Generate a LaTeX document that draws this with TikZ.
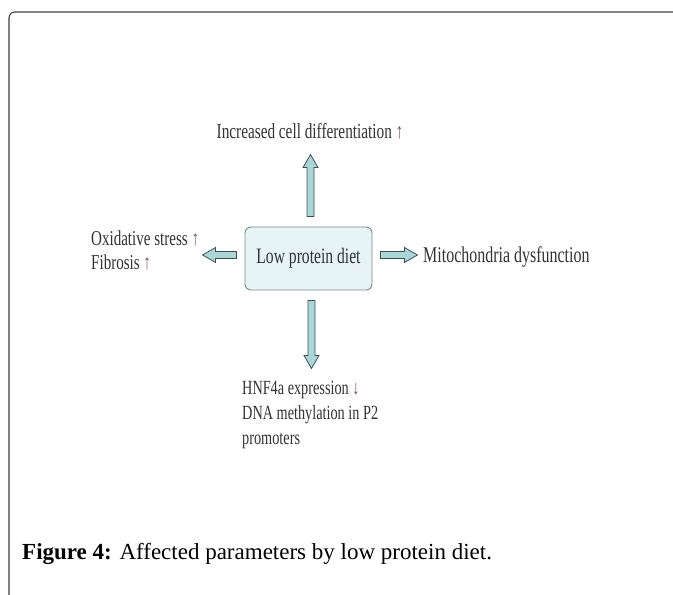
\documentclass[tikz,border=0pt]{standalone}
\usepackage{fontspec}
\setmainfont{Liberation Serif}
\newfontfamily\condfont[FakeStretch=0.71]{Liberation Serif}
\usetikzlibrary{calc}
\definecolor{txtgray}{HTML}{333333}
\definecolor{boxfill}{HTML}{E6F4F6}
\definecolor{boxline}{HTML}{7A8A8C}
\definecolor{arrfill}{HTML}{A9D6D9}
\definecolor{arrline}{HTML}{3F4F50}
\definecolor{updown}{HTML}{7A5560}
\tikzset{
  lbl/.style={inner sep=0pt, text=txtgray},
  centerbox/.style={draw=boxline, fill=boxfill, rounded corners=6pt, line width=0.9pt,
    minimum width=127pt, minimum height=63pt, text=txtgray, font=\condfont\fontsize{22}{24}\selectfont},
  blockarr/.style={draw=arrline, fill=arrfill, line width=0.8pt, line join=miter},
  frame/.style={draw=black!75, line width=1.1pt}
}
\newcommand{\updn}[1]{\textcolor{updown}{#1}}
\newcommand{\blockarrow}[3]{% #1 start, #2 angle, #3 length
  \begin{scope}[shift={#1}, rotate=#2]
    \draw[blockarr] (0,-3.5) -- ({#3-13},-3.5) -- ({#3-13},-7.5) -- (#3,0)
      -- ({#3-13},7.5) -- ({#3-13},3.5) -- (0,3.5) -- cycle;
  \end{scope}}
\begin{document}
\begin{tikzpicture}[x=1pt,y=1pt]
\useasboundingbox (0,0) rectangle (673,595);
\fill[white] (0,0) rectangle (673,595);
% outer frame (open to the right and bottom)
\draw[frame, rounded corners=6pt] (9,-5) |- (690,583);
% centre box
\node[centerbox] (diet) at (308.5,336.5) {Low protein diet};
% labels
\node[lbl, font=\condfont\fontsize{21.5}{26}\selectfont] (up) at (310,464)
  {Increased cell differentiation \updn{↑}};
\node[lbl, anchor=west, align=left, font=\condfont\fontsize{21.2}{24}\selectfont] (left) at (91,345)
  {Oxidative stress \updn{↑}\\Fibrosis \updn{↑}};
\node[lbl, anchor=west, font=\condfont\fontsize{22.5}{26}\selectfont] (right) at (423,338)
  {Mitochondria dysfunction};
\node[lbl, anchor=north west, align=left, font=\condfont\fontsize{20.1}{25}\selectfont] (down) at (242,214)
  {HNF4a expression \updn{↓}\\DNA methylation in P2\\promoters};
% block arrows
\blockarrow{($(diet.north)+(2,10)$)}{90}{62}
\blockarrow{($(diet.west)+(-8,3.5)$)}{180}{34}
\blockarrow{($(diet.east)+(8,3.5)$)}{0}{37}
\blockarrow{($(diet.south)+(3,-10)$)}{-90}{68}
% caption
\node[inner sep=0pt, anchor=base west, font=\fontsize{23}{26}\selectfont] (cap) at (22,35)
  {\textbf{Figure 4:} Affected parameters by low protein diet.};
\end{tikzpicture}
\end{document}
